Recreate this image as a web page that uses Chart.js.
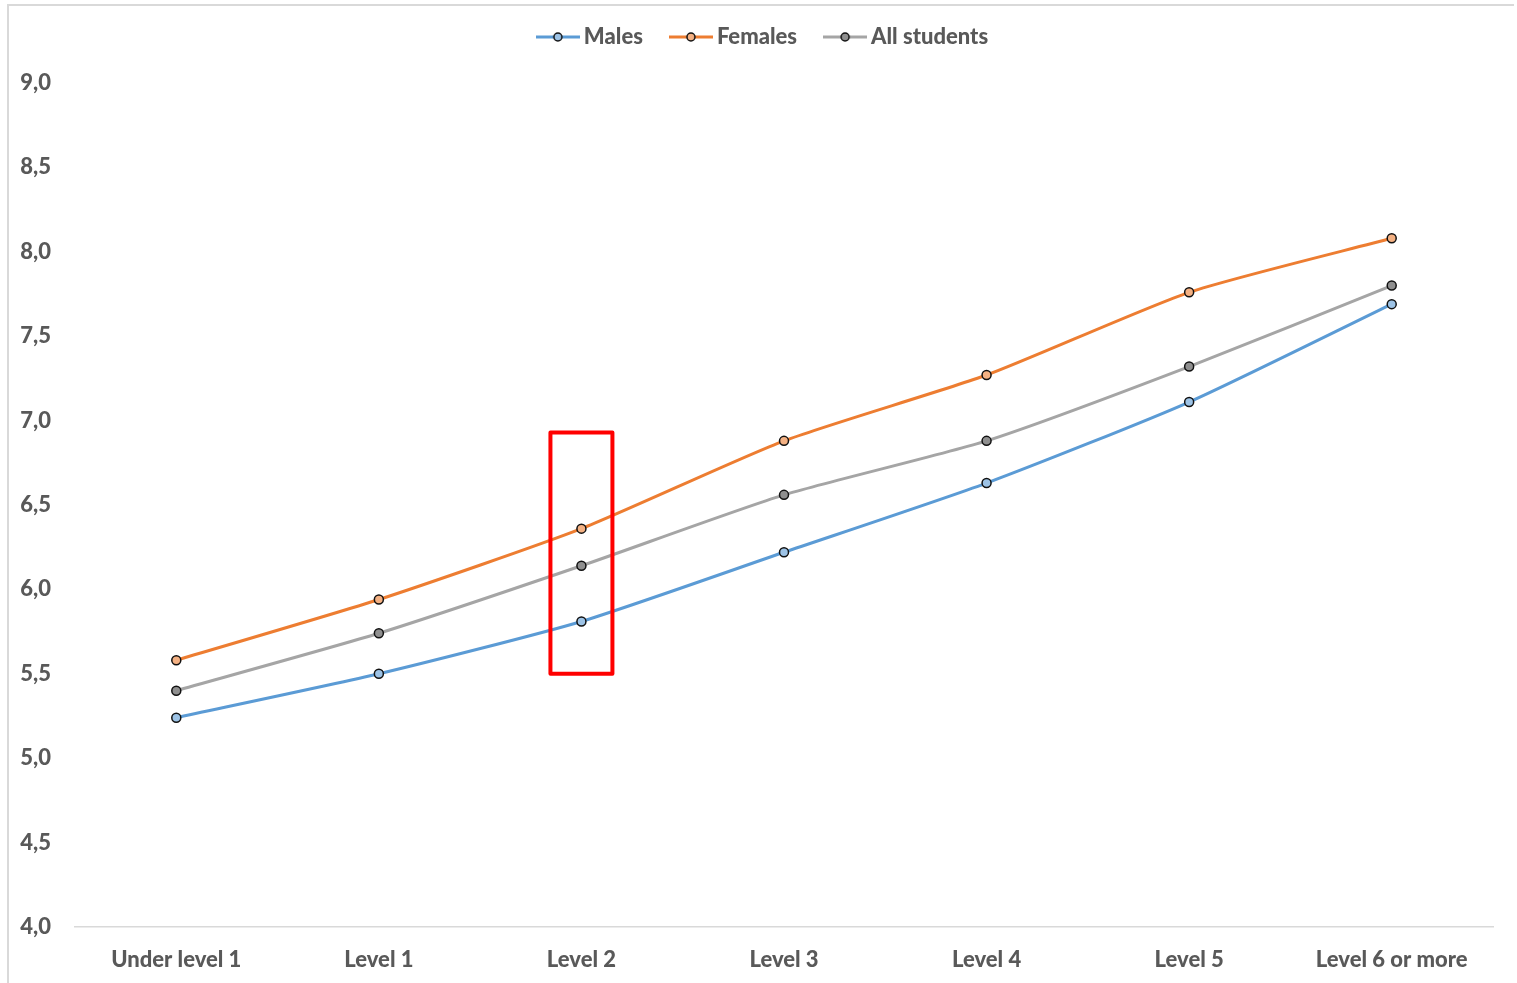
<!DOCTYPE html>
<html>
<head>
<meta charset="utf-8">
<script src="https://cdn.jsdelivr.net/npm/chart.js@4.4.1/dist/chart.umd.min.js"></script>
<style>
  html, body { margin: 0; padding: 0; background: #ffffff; }
  body { width: 1517px; height: 983px; position: relative; overflow: hidden; }
  #frame {
    position: absolute; left: 7px; top: 4px; width: 1507px; height: 990px;
    border-top: 2px solid #d9d9d9; border-left: 2px solid #d9d9d9;
    box-sizing: border-box; pointer-events: none;
  }
  #wrap { position: absolute; left: 0; top: 0; width: 1517px; height: 983px; }
  canvas { display: block; }
</style>
</head>
<body>
<div id="wrap"><canvas id="chart" width="1517" height="983"></canvas></div>
<div id="frame"></div>
<script>
// Proficiency levels on the x axis
const categories = ['Under level 1', 'Level 1', 'Level 2', 'Level 3', 'Level 4', 'Level 5', 'Level 6 or more'];

// Mean scores per level
const males       = [5.24, 5.50, 5.81, 6.22, 6.63, 7.11, 7.69];
const females     = [5.58, 5.94, 6.36, 6.88, 7.27, 7.76, 8.08];
const allStudents = [5.40, 5.74, 6.14, 6.56, 6.88, 7.32, 7.80];

// Value axis
const yMin = 4.0;
const yMax = 9.0;
const yStep = 0.5;

// Highlighted category and the value span the box encloses
const highlightCategory = 'Level 2';
const highlightRange = [5.5, 6.93];

const FONT = 'Lato, "Open Sans", "Liberation Sans", sans-serif';
const TEXT = '#595959';
const FONT_SIZE = 22;

const seriesStyle = [
  { label: 'Males',        data: males,       line: '#5b9bd5', fill: '#9dc3e6' },
  { label: 'Females',      data: females,     line: '#ed7d31', fill: '#f4b183' },
  { label: 'All students', data: allStudents, line: '#a5a5a5', fill: '#8f8f8f' }
];

// Legend swatch: short line with a circle marker in the middle
function legendSwatch(lineColor, fillColor) {
  const c = document.createElement('canvas');
  c.width = 44; c.height = 14;
  const g = c.getContext('2d');
  g.strokeStyle = lineColor; g.lineWidth = 3;
  g.beginPath(); g.moveTo(0, 7); g.lineTo(44, 7); g.stroke();
  g.beginPath(); g.arc(22, 7, 4, 0, Math.PI * 2);
  g.fillStyle = fillColor; g.fill();
  g.strokeStyle = '#111111'; g.lineWidth = 1.5; g.stroke();
  return c;
}

// Fixed legend band height and a small horizontal nudge for the legend row
const legendBand = {
  id: 'legendBand',
  afterInit(chart) {
    const lg = chart.legend;
    const fit = lg.fit.bind(lg);
    lg.fit = function () { fit(); this.height = 90; };
  },
  afterLayout(chart) {
    chart.legend.left += 19;
    chart.legend.right += 19;
  }
};

const highlightBox = {
  id: 'highlightBox',
  afterDatasetsDraw(chart) {
    const x = chart.scales.x, y = chart.scales.y;
    const idx = categories.indexOf(highlightCategory);
    const cx = x.getPixelForValue(idx);
    const half = (x.getPixelForValue(1) - x.getPixelForValue(0)) * 0.153;
    const top = y.getPixelForValue(highlightRange[1]);
    const bottom = y.getPixelForValue(highlightRange[0]);
    const ctx = chart.ctx;
    ctx.save();
    ctx.strokeStyle = '#ff0000';
    ctx.lineWidth = 4;
    ctx.lineJoin = 'round';
    ctx.strokeRect(cx - half, top, half * 2, bottom - top);
    ctx.restore();
  }
};

new Chart(document.getElementById('chart'), {
  type: 'line',
  data: {
    labels: categories,
    datasets: seriesStyle.map(s => ({
      label: s.label,
      data: s.data,
      borderColor: s.line,
      backgroundColor: s.fill,
      borderWidth: 3,
      tension: 0.2,
      pointRadius: 4.5,
      pointHoverRadius: 4.5,
      pointBackgroundColor: s.fill,
      pointBorderColor: '#111111',
      pointBorderWidth: 1.5,
      fill: false,
      _swatch: legendSwatch(s.line, s.fill)
    }))
  },
  options: {
    responsive: false,
    animation: false,
    devicePixelRatio: 1,
    layout: { padding: { top: -7, right: 24, bottom: 0, left: 0 } },
    plugins: {
      tooltip: { enabled: false },
      legend: {
        position: 'top',
        align: 'center',
        labels: {
          color: TEXT,
          font: { family: FONT, size: FONT_SIZE, weight: '900' },
          usePointStyle: true,
          pointStyleWidth: 30,
          boxHeight: 12,
          padding: 33,
          generateLabels(chart) {
            return chart.data.datasets.map((ds, i) => ({
              text: ds.label,
              pointStyle: ds._swatch,
              fillStyle: ds.backgroundColor,
              strokeStyle: ds.borderColor,
              lineWidth: 0,
              fontColor: TEXT,
              hidden: false,
              datasetIndex: i
            }));
          }
        }
      }
    },
    scales: {
      x: {
        offset: true,
        grid: { display: false, drawTicks: false },
        border: { display: true, color: '#d9d9d9', width: 1.5 },
        afterFit(scale) { scale.height = 56; },
        ticks: {
          color: TEXT,
          font: { family: FONT, size: FONT_SIZE, weight: '900' },
          padding: 20,
          maxRotation: 0,
          autoSkip: false
        }
      },
      y: {
        min: yMin,
        max: yMax,
        grid: { display: false, drawTicks: false },
        border: { display: false },
        afterFit(scale) { scale.width = 75; },
        ticks: {
          stepSize: yStep,
          color: TEXT,
          font: { family: FONT, size: FONT_SIZE, weight: '900' },
          padding: 24,
          callback: v => v.toFixed(1).replace('.', ',')
        }
      }
    }
  },
  plugins: [legendBand, highlightBox]
});
</script>
</body>
</html>
